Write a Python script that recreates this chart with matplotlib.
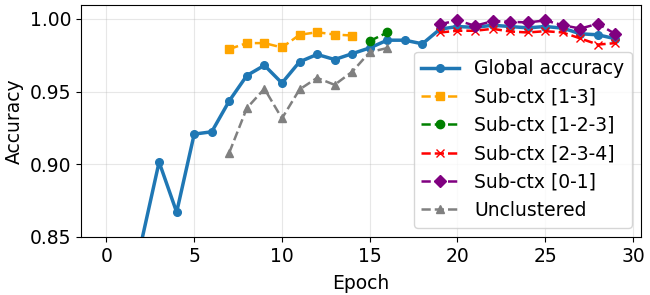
import numpy as np
import matplotlib
matplotlib.use('Agg')
import matplotlib.pyplot as plt

# ── Data ──────────────────────────────────────────────────────────────────────
epochs_global = list(range(30))
acc_global = [0.70, 0.78, 0.847, 0.9015, 0.867, 0.9207, 0.9223, 0.9436, 0.961, 0.968,
              0.9558, 0.9704, 0.9755, 0.972, 0.976, 0.980, 0.9853, 0.9853, 0.9828, 0.9929,
              0.9947, 0.9941, 0.9956, 0.9947, 0.9938, 0.9947, 0.9936, 0.9897, 0.989, 0.9863]

epochs_13 = list(range(7, 15))
acc_13 = [0.9792, 0.9833, 0.9833, 0.9803, 0.989, 0.9908, 0.9892, 0.9885]

epochs_123 = [15, 16]
acc_123 = [0.9847, 0.9906]

epochs_234 = list(range(19, 30))
acc_234 = [0.9906, 0.9918, 0.9918, 0.9931, 0.9913, 0.9906, 0.9915, 0.9906, 0.9865,
           0.9823, 0.9833]

epochs_01 = list(range(19, 30))
acc_01 = [0.9963, 0.9989, 0.9952, 0.9984, 0.998, 0.9975, 0.9989, 0.9956, 0.9933,
          0.9966, 0.9895]

epochs_unc = list(range(7, 17))
acc_unc = [0.908, 0.9386, 0.9519, 0.9315, 0.9514, 0.9594, 0.9546, 0.9636, 0.9771, 0.9799]

# ── Plot ──────────────────────────────────────────────────────────────────────
fs = 13.5
fig, ax = plt.subplots(figsize=(6.5, 2.95), dpi=100)
fig.subplots_adjust(left=0.1246, right=0.986, top=0.983, bottom=0.197)

ax.plot(epochs_global, acc_global, '-o', color='#1f77b4', lw=2.5, ms=5.5,
        label='Global accuracy')
ax.plot(epochs_13, acc_13, '--s', color='orange', lw=1.8, ms=6, label='Sub-ctx [1-3]')
ax.plot(epochs_123, acc_123, '--o', color='green', lw=1.8, ms=6, label='Sub-ctx [1-2-3]')
ax.plot(epochs_234, acc_234, '--x', color='red', lw=1.8, ms=6, label='Sub-ctx [2-3-4]')
ax.plot(epochs_01, acc_01, '--D', color='purple', lw=1.8, ms=6, label='Sub-ctx [0-1]')
ax.plot(epochs_unc, acc_unc, '--^', color='gray', lw=1.8, ms=6, label='Unclustered')

ax.set_ylim(0.85, 1.0095)
ax.set_xlim(-1.45, 30.45)
ax.set_yticks([0.85, 0.90, 0.95, 1.00])
ax.set_xticks([0, 5, 10, 15, 20, 25, 30])
ax.tick_params(labelsize=fs)
ax.set_xlabel('Epoch', fontsize=fs, labelpad=6)
ax.set_ylabel('Accuracy', fontsize=fs)
ax.grid(True, alpha=0.3)
ax.legend(loc='lower right', fontsize=fs)

plt.savefig('out.png', dpi=100)
plt.close()
